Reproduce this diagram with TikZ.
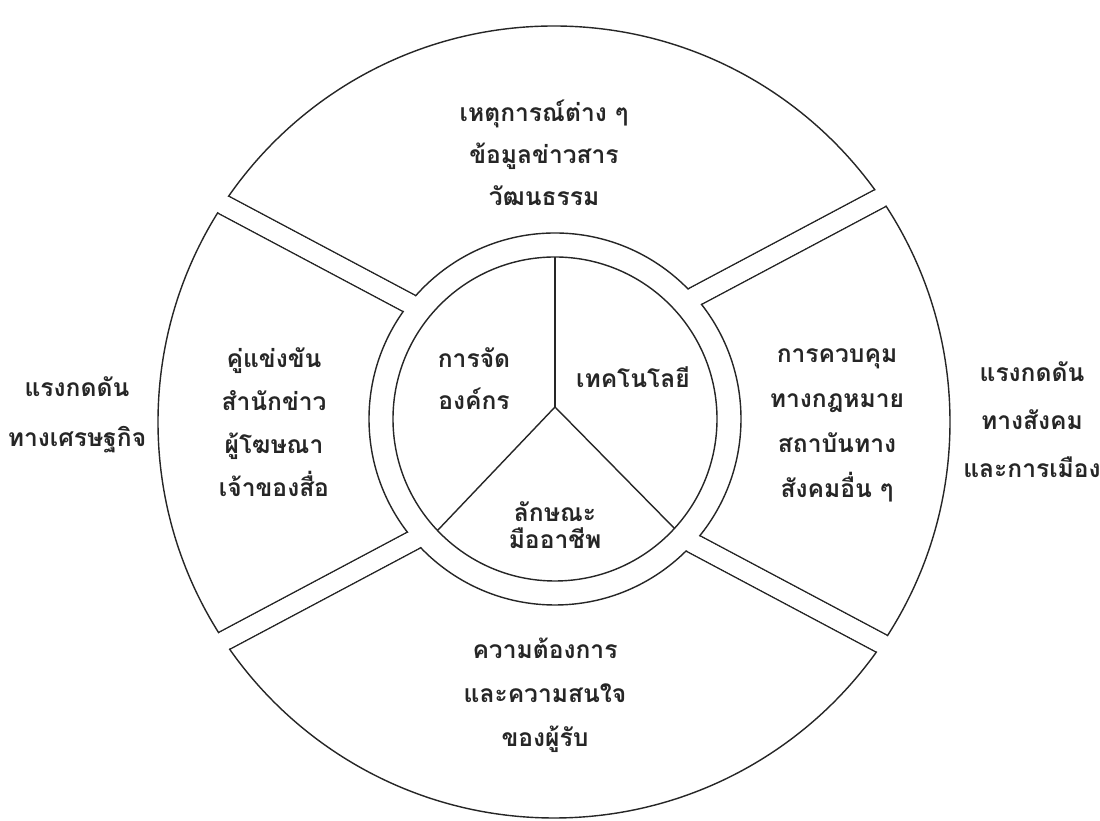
\documentclass[tikz,border=0pt]{standalone}
\usepackage{fontspec}
\newfontfamily\thaifont[Script=Thai]{Loma}
\usetikzlibrary{calc}
\newcommand{\tf}[1]{\thaifont\bfseries\fontsize{14}{#1}\selectfont}
\begin{document}
\begin{tikzpicture}[x=0.02cm,y=0.02cm,
  ln/.style={draw=black!85, line width=0.8pt},
  txt/.style={align=center, inner sep=0pt, text=black!85}]
\useasboundingbox (0,0) rectangle (1100,821);
\fill[white] (0,0) rectangle (1100,821);
\coordinate (C1) at (554,399);
\coordinate (C2) at (555,402);
\coordinate (TL) at (555,440);
\coordinate (TR) at (555,450);
\coordinate (BL) at (555,356);
\coordinate (BR) at (555,351);
\coordinate (J) at (555,414);
% gap lines, clipped to the outer circle
\begin{scope}
  \clip (C1) circle[radius=396];
  \foreach \ap/\ang in {TL/152,TR/28,BL/208,BR/332}{
    \foreach \s in {90,-90}{
      \draw[ln] ($(\ap)+({\ang+\s}:10)$) -- ($(\ap)+(\ang:700)+({\ang+\s}:10)$);
    }
  }
\end{scope}
\fill[white] (C2) circle[radius=186];
\draw[ln] (C1) circle[radius=396];
\draw[ln] (C2) circle[radius=186];
% open the gaps
\foreach \ap/\ang in {TL/152,TR/28,BL/208,BR/332}{
  \fill[white] ($(\ap)+(\ang:30)+({\ang+90}:9.1)$) -- ($(\ap)+(\ang:700)+({\ang+90}:9.1)$)
     -- ($(\ap)+(\ang:700)+({\ang-90}:9.1)$) -- ($(\ap)+(\ang:30)+({\ang-90}:9.1)$) -- cycle;
}
% inner circle and its three parts
\draw[ln] (C2) circle[radius=162];
\coordinate (Ytop) at ($(C2)+(90:162)$);
\coordinate (Yl) at ($(C2)+(223.5:162)$);
\coordinate (Yr) at ($(C2)+(317.5:162)$);
\draw[ln] (J) -- (Ytop);
\draw[ln] (J) -- (Yl);
\draw[ln] (J) -- (Yr);
% texts
\node[txt, font=\tf{23.9}] (top) at (544,668) {เหตุการณ์ต่าง ๆ\\ข้อมูลข่าวสาร\\วัฒนธรรม};
\node[txt, font=\tf{24.6}] (left) at (274,399) {คู่แข่งขัน\\สำนักข่าว\\ผู้โฆษณา\\เจ้าของสื่อ};
\node[txt, font=\tf{25.6}] (right) at (837,396) {การควบคุม\\ทางกฎหมาย\\สถาบันทาง\\สังคมอื่น ๆ};
\node[txt, font=\tf{25}] (bottom) at (545,126) {ความต้องการ\\และความสนใจ\\ของผู้รับ};
\node[txt, font=\tf{23.9}] (org) at (474,442) {การจัด\\องค์กร};
\node[txt, font=\tf{20}] (tech) at (633,444) {เทคโนโลยี};
\node[txt, font=\tf{15.4}] (prof) at (555,296) {ลักษณะ\\มืออาชีพ};
\node[txt, font=\tf{28.4}] (econ) at (77,406) {แรงกดดัน\\ทางเศรษฐกิจ};
\node[txt, font=\tf{27.3}] (soc) at (1032,401) {แรงกดดัน\\ทางสังคม\\และการเมือง};
\end{tikzpicture}
\end{document}
